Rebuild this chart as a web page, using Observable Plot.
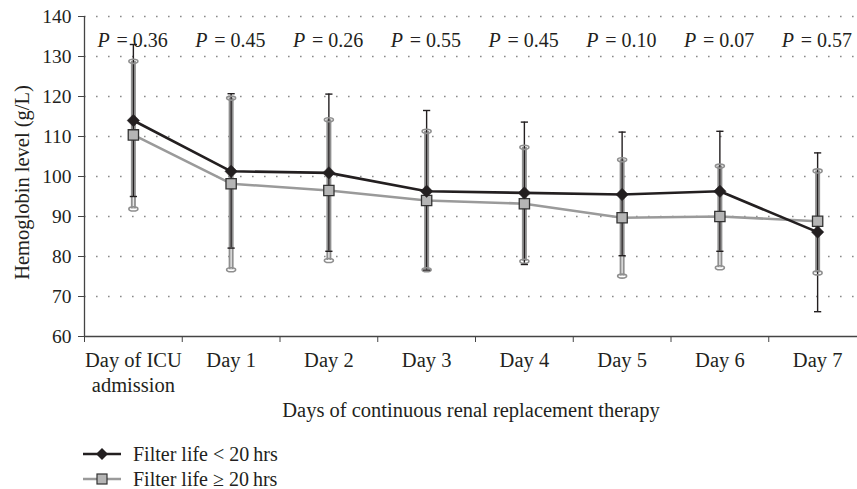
<!DOCTYPE html>
<html>
<head>
<meta charset="utf-8">
<script src="https://cdn.jsdelivr.net/npm/d3@7"></script>
<script src="https://cdn.jsdelivr.net/npm/@observablehq/plot@0.6"></script>
<style>
  html, body { margin: 0; padding: 0; background: white; }
  body { width: 857px; height: 489px; overflow: hidden; font-family: 'Liberation Serif', 'Times New Roman', serif; color: #231f20; }
  #chart svg { display: block; }
  .legend { padding-left: 83px; padding-top: 1px; font-size: 20px; line-height: 1; }
  .legend .row { height: 25px; display: flex; align-items: center; }
  .legend svg { margin-right: 12px; display: block; }
</style>
</head>
<body>
<div id="chart"></div>
<div class="legend">
  <div class="row">
    <svg width="38" height="14"><line x1="0" x2="38" y1="7" y2="7" stroke="#231f20" stroke-width="2.5"/><path d="M19,1L25,7L19,13L13,7Z" fill="#231f20"/></svg>
    <span>Filter life &lt; 20&#8201;hrs</span>
  </div>
  <div class="row">
    <svg width="38" height="14"><line x1="0" x2="38" y1="7" y2="7" stroke="#9a9a9a" stroke-width="2.5"/><rect x="14" y="2" width="10" height="10" fill="#b5b5b5" stroke="#333" stroke-width="1.2"/></svg>
    <span>Filter life &#8805; 20&#8201;hrs</span>
  </div>
</div>
<script>
const categories = ["Day of ICU\nadmission", "Day 1", "Day 2", "Day 3", "Day 4", "Day 5", "Day 6", "Day 7"];
const pValues = ["0.36", "0.45", "0.26", "0.55", "0.45", "0.10", "0.07", "0.57"];

// Filter life < 20 hrs
const shortMean  = [114, 101.3, 100.9, 96.3, 95.9, 95.5, 96.3, 86.1];
const shortUpper = [133, 120.7, 120.6, 116.5, 113.6, 111.1, 111.3, 105.9];
const shortLower = [95, 82.1, 81.3, 76.6, 78.0, 80.2, 81.3, 66.2];

// Filter life >= 20 hrs
const longMean  = [110.4, 98.2, 96.5, 94.0, 93.2, 89.7, 90.0, 88.8];
const longUpper = [128.8, 119.6, 114.2, 111.3, 107.3, 104.2, 102.6, 101.4];
const longLower = [91.9, 76.7, 79.0, 76.7, 78.8, 75.1, 77.2, 75.9];

const yTicks = [60, 70, 80, 90, 100, 110, 120, 130, 140];
const gridTicks = [70, 80, 90, 100, 110, 120, 130, 140];

const rows = categories.map((c, i) => ({
  i, c, p: pValues[i],
  sm: shortMean[i], su: shortUpper[i], sl: shortLower[i],
  lm: longMean[i], lu: longUpper[i], ll: longLower[i]
}));
const idx = d3.range(categories.length);
const edges = idx.map(i => i - 0.5);

const ink = "#231f20";
const grayLine = "#9a9a9a";
const grayBar = "#8f8f8f";
const font = "'Liberation Serif', 'Times New Roman', serif";

const capLine = {draw(ctx, size) { const r = Math.sqrt(size / Math.PI); ctx.moveTo(-r, 0); ctx.lineTo(r, 0); }};
const capEllipse = {draw(ctx, size) {
  const rx = Math.sqrt(size / Math.PI), ry = rx * 0.45, k = 0.5523;
  ctx.moveTo(rx, 0);
  ctx.bezierCurveTo(rx, ry * k, rx * k, ry, 0, ry);
  ctx.bezierCurveTo(-rx * k, ry, -rx, ry * k, -rx, 0);
  ctx.bezierCurveTo(-rx, -ry * k, -rx * k, -ry, 0, -ry);
  ctx.bezierCurveTo(rx * k, -ry, rx, -ry * k, rx, 0);
  ctx.closePath();
}};

const chart = Plot.plot({
  width: 857,
  height: 440,
  marginLeft: 84,
  marginRight: 0,
  marginTop: 16,
  marginBottom: 104,
  style: {fontFamily: font, fontSize: "19px", color: ink, background: "white", overflow: "visible"},
  x: {type: "linear", domain: [-0.5, 7.5], range: [84, 866], axis: null},
  y: {domain: [60, 140], axis: null},
  marks: [
    Plot.ruleY(gridTicks, {stroke: "#8a8a8a", strokeWidth: 1.6, strokeDasharray: "1.6,10.4"}),
    Plot.axisY({ticks: yTicks, tickSize: 6, tickPadding: 7, tickFormat: d => String(d), label: null, stroke: "#444", fill: ink, fontSize: 19.5}),
    Plot.axisX({ticks: edges, tickSize: 6, tickFormat: () => "", label: null, stroke: "#444"}),
    Plot.axisX({ticks: idx, tickSize: 0, tickPadding: 12, tickFormat: i => categories[i], label: null, lineHeight: 1.25, fill: ink, fontSize: 20.5}),
    Plot.ruleX([-0.5], {stroke: "#444", strokeWidth: 1.3}),
    Plot.ruleY([60], {stroke: "#444", strokeWidth: 1.3}),
    Plot.text(["Hemoglobin level (g/L)"], {frameAnchor: "left", textAnchor: "middle", rotate: -90, dx: -62, dy: 6, fill: ink, fontSize: 20.5}),
    Plot.text(["Days of continuous renal replacement therapy"], {frameAnchor: "bottom", dy: 80, fill: ink, fontSize: 20.5}),
    // P values
    Plot.text(rows, {x: "i", text: () => "P", frameAnchor: "top", dy: 16, dx: -36, textAnchor: "start", fontStyle: "italic", fill: ink, fontSize: 20}),
    Plot.text(rows, {x: "i", text: d => "= " + d.p, frameAnchor: "top", dy: 16, dx: -17, textAnchor: "start", fill: ink, fontSize: 20}),
    // gray error bars (hollow)
    Plot.ruleX(rows, {x: "i", y1: "ll", y2: "lu", stroke: grayBar, strokeWidth: 5}),
    Plot.ruleX(rows, {x: "i", y1: "ll", y2: "lu", stroke: "#e6e6e6", strokeWidth: 1.4}),
    // black error bars
    Plot.ruleX(rows, {x: "i", y1: "sl", y2: "su", stroke: ink, strokeWidth: 1.4}),
    Plot.dot(rows, {x: "i", y: "lu", symbol: capEllipse, r: 4.5, fill: "none", stroke: grayBar, strokeWidth: 1.6}),
    Plot.dot(rows, {x: "i", y: "ll", symbol: capEllipse, r: 4.5, fill: "none", stroke: grayBar, strokeWidth: 1.6}),
    Plot.dot(rows, {x: "i", y: "su", symbol: capLine, r: 3.6, fill: "none", stroke: ink, strokeWidth: 1.4}),
    Plot.dot(rows, {x: "i", y: "sl", symbol: capLine, r: 3.6, fill: "none", stroke: ink, strokeWidth: 1.4}),
    // lines
    Plot.line(rows, {x: "i", y: "lm", stroke: grayLine, strokeWidth: 2.6}),
    Plot.line(rows, {x: "i", y: "sm", stroke: ink, strokeWidth: 2.6}),
    Plot.dot(rows, {x: "i", y: "lm", symbol: "square", r: 5.8, fill: "#b5b5b5", stroke: "#333", strokeWidth: 1.3}),
    Plot.dot(rows, {x: "i", y: "sm", symbol: "diamond2", r: 5.6, fill: ink, stroke: ink, strokeWidth: 0.5})
  ]
});
document.getElementById("chart").appendChild(chart);
</script>
</body>
</html>
